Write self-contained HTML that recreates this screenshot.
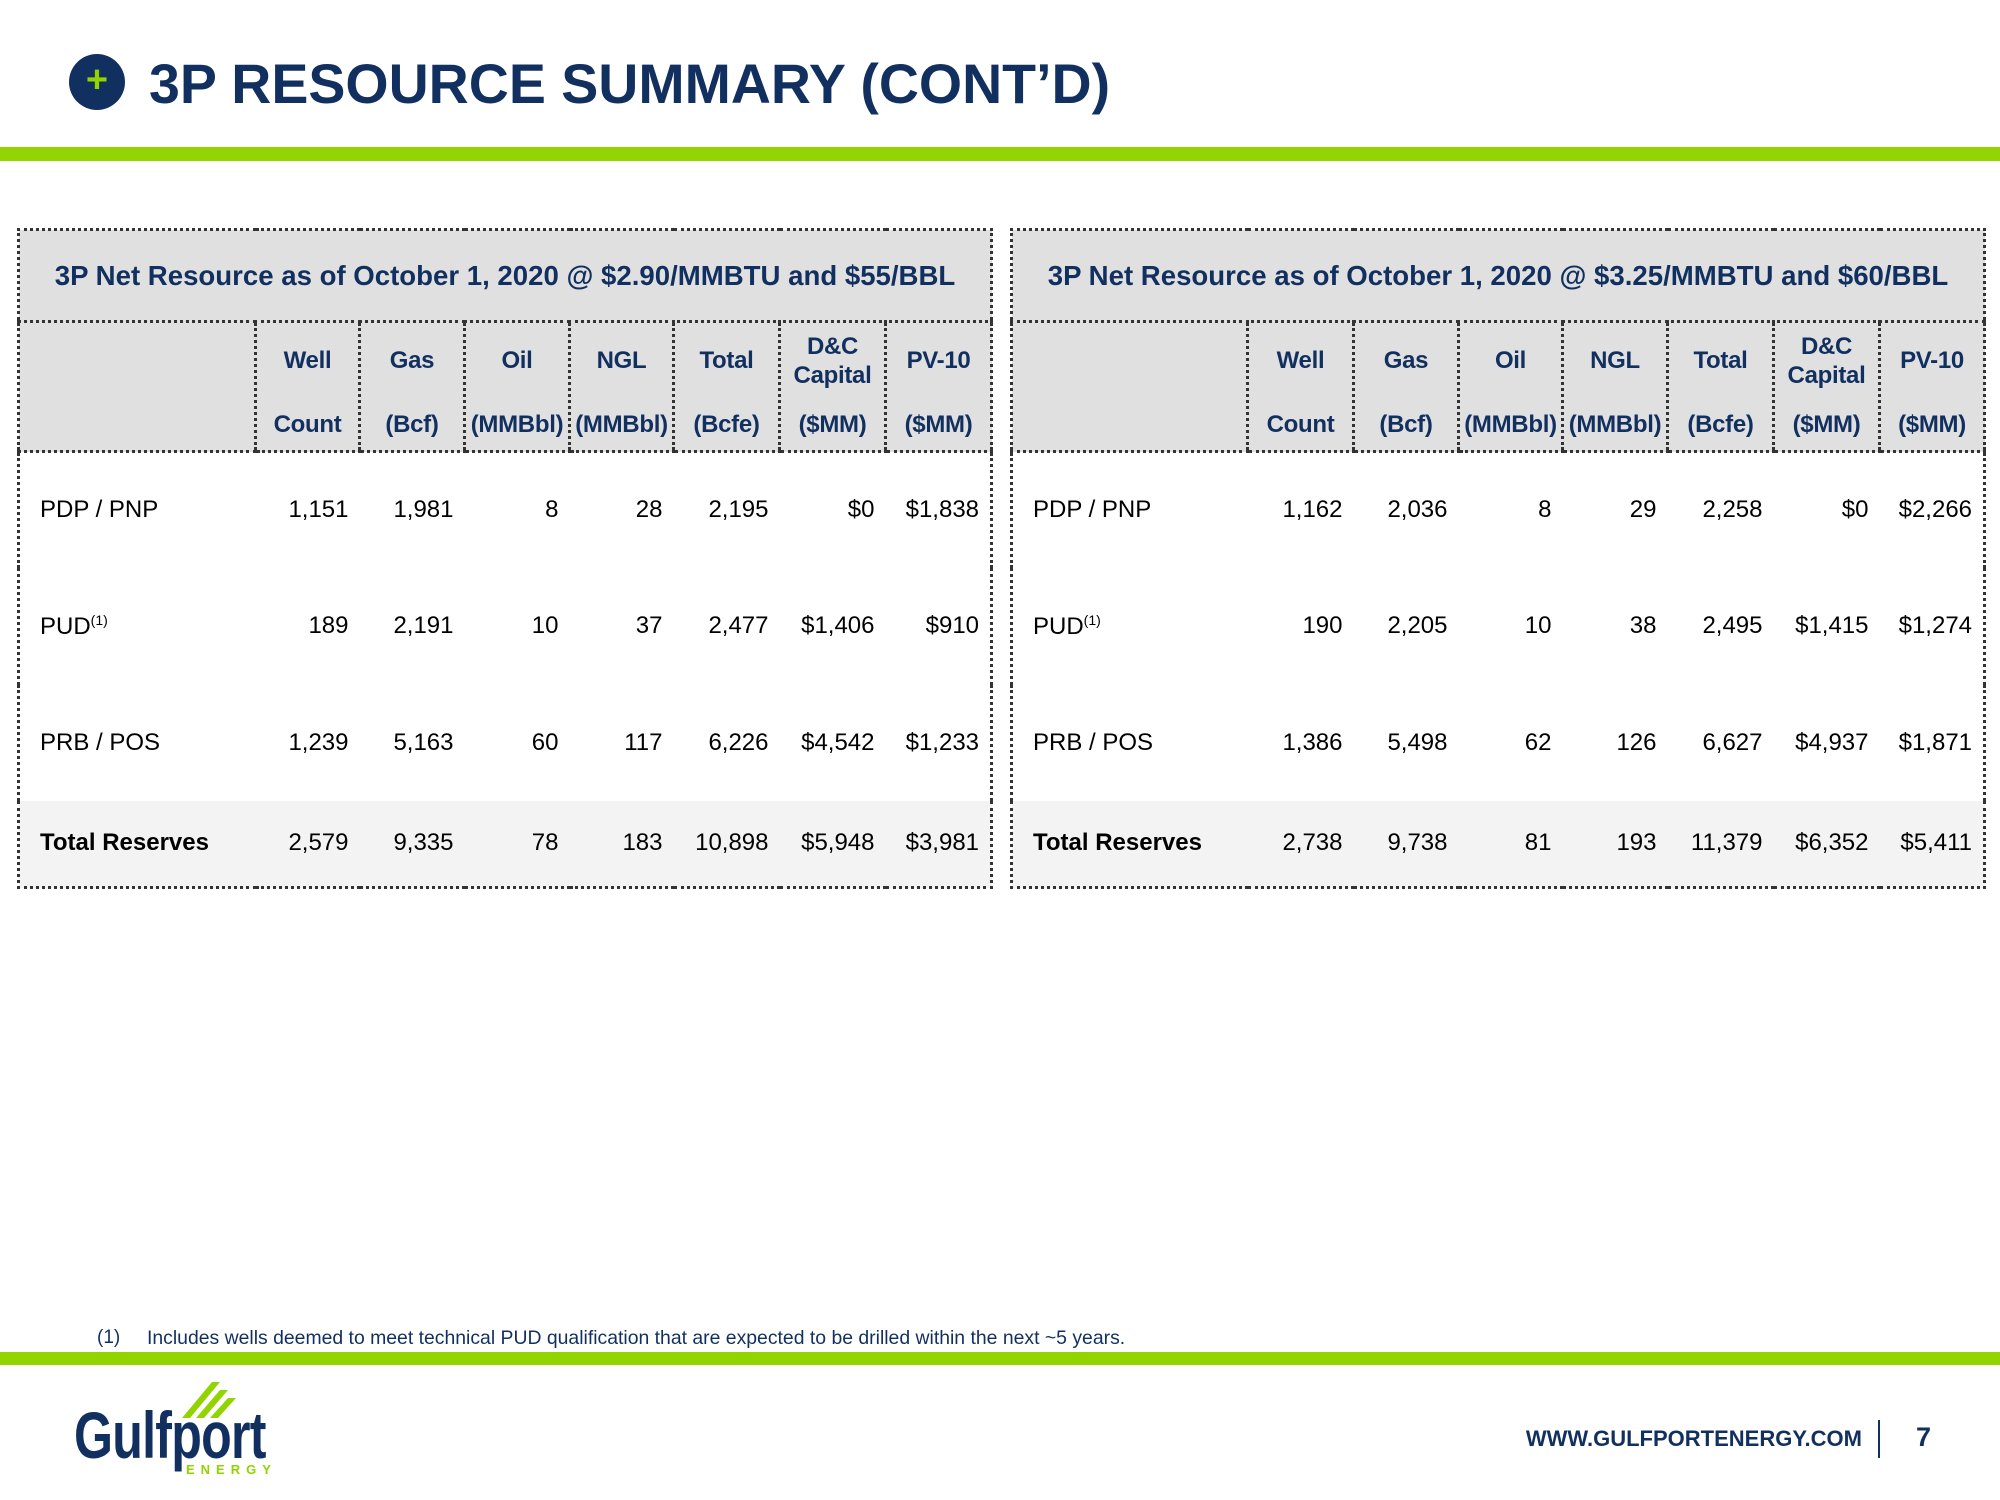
<!DOCTYPE html>
<html><head><meta charset="utf-8"><style>
*{margin:0;padding:0;box-sizing:border-box}
body{width:2000px;height:1500px;background:#fff;position:relative;overflow:hidden;font-family:"Liberation Sans",Arial,sans-serif;color:#0f2a5a}
.abs{position:absolute}
table{position:absolute;top:228px;border-collapse:collapse;table-layout:fixed;border:3px dotted #333;}
td{font-size:24px;color:#000;padding:0}
.tt td{height:92px;background:#e0e0e0;color:#12305f;font-weight:bold;font-size:27.6px;text-align:center;border-bottom:3px dotted #333}
.hd td{height:127px;background:#e0e0e0;border-bottom:3px dotted #333;border-left:3px dotted #333;color:#12305f;font-weight:bold;text-align:center}
.hd td:first-child{border-left:none}
.hd div{position:relative;height:127px}
.hd span{position:absolute;left:0;right:0;white-space:nowrap;letter-spacing:-0.3px}
.r td{text-align:right;padding-right:11px}
.r td:first-child{text-align:left;padding-left:20px;padding-right:0}
.r1 td{height:116px}.r2 td{height:117px}.r3 td{height:116px}
.tot td{height:87px;background:#f3f3f3}
.tot td:first-child{font-weight:bold}
sup{font-size:14px;vertical-align:9px}
</style></head><body>
<div class="abs" style="left:69px;top:54px;width:56px;height:56px;border-radius:50%;background:#12305f;color:#92d400;font-size:38px;font-weight:bold;text-align:center;line-height:52px">+</div>
<div class="abs" style="left:149px;top:52px;font-size:55.5px;font-weight:bold;color:#12305f;white-space:nowrap">3P RESOURCE SUMMARY (CONT’D)</div>
<div class="abs" style="left:0;top:147px;width:2000px;height:14px;background:#92d400"></div>

<table style="left:17px;width:973px">
<colgroup><col style="width:237px"><col style="width:104px"><col style="width:105px"><col style="width:105px"><col style="width:104px"><col style="width:106px"><col style="width:106px"><col style="width:106px"></colgroup>
<tr class="tt"><td colspan="8">3P Net Resource as of October 1, 2020 @ $2.90/MMBTU and $55/BBL</td></tr>
<tr class="hd"><td></td>
<td><div><span style="top:24px">Well</span><span style="top:88px">Count</span></div></td>
<td><div><span style="top:24px">Gas</span><span style="top:88px">(Bcf)</span></div></td>
<td><div><span style="top:24px">Oil</span><span style="top:88px">(MMBbl)</span></div></td>
<td><div><span style="top:24px">NGL</span><span style="top:88px">(MMBbl)</span></div></td>
<td><div><span style="top:24px">Total</span><span style="top:88px">(Bcfe)</span></div></td>
<td><div><span style="top:10px">D&amp;C</span><span style="top:39px">Capital</span><span style="top:88px">($MM)</span></div></td>
<td><div><span style="top:24px">PV-10</span><span style="top:88px">($MM)</span></div></td></tr>
<tr class="r r1"><td>PDP / PNP</td><td>1,151</td><td>1,981</td><td>8</td><td>28</td><td>2,195</td><td>$0</td><td>$1,838</td></tr>
<tr class="r r2"><td>PUD<sup>(1)</sup></td><td>189</td><td>2,191</td><td>10</td><td>37</td><td>2,477</td><td>$1,406</td><td>$910</td></tr>
<tr class="r r3"><td>PRB / POS</td><td>1,239</td><td>5,163</td><td>60</td><td>117</td><td>6,226</td><td>$4,542</td><td>$1,233</td></tr>
<tr class="r tot"><td>Total Reserves</td><td>2,579</td><td>9,335</td><td>78</td><td>183</td><td>10,898</td><td>$5,948</td><td>$3,981</td></tr>
</table>

<table style="left:1010px;width:973px">
<colgroup><col style="width:236px"><col style="width:106px"><col style="width:105px"><col style="width:104px"><col style="width:105px"><col style="width:106px"><col style="width:106px"><col style="width:105px"></colgroup>
<tr class="tt"><td colspan="8">3P Net Resource as of October 1, 2020 @ $3.25/MMBTU and $60/BBL</td></tr>
<tr class="hd"><td></td>
<td><div><span style="top:24px">Well</span><span style="top:88px">Count</span></div></td>
<td><div><span style="top:24px">Gas</span><span style="top:88px">(Bcf)</span></div></td>
<td><div><span style="top:24px">Oil</span><span style="top:88px">(MMBbl)</span></div></td>
<td><div><span style="top:24px">NGL</span><span style="top:88px">(MMBbl)</span></div></td>
<td><div><span style="top:24px">Total</span><span style="top:88px">(Bcfe)</span></div></td>
<td><div><span style="top:10px">D&amp;C</span><span style="top:39px">Capital</span><span style="top:88px">($MM)</span></div></td>
<td><div><span style="top:24px">PV-10</span><span style="top:88px">($MM)</span></div></td></tr>
<tr class="r r1"><td>PDP / PNP</td><td>1,162</td><td>2,036</td><td>8</td><td>29</td><td>2,258</td><td>$0</td><td>$2,266</td></tr>
<tr class="r r2"><td>PUD<sup>(1)</sup></td><td>190</td><td>2,205</td><td>10</td><td>38</td><td>2,495</td><td>$1,415</td><td>$1,274</td></tr>
<tr class="r r3"><td>PRB / POS</td><td>1,386</td><td>5,498</td><td>62</td><td>126</td><td>6,627</td><td>$4,937</td><td>$1,871</td></tr>
<tr class="r tot"><td>Total Reserves</td><td>2,738</td><td>9,738</td><td>81</td><td>193</td><td>11,379</td><td>$6,352</td><td>$5,411</td></tr>
</table>

<div class="abs" style="left:97px;top:1327px;font-size:19px;color:#12305f">(1)</div>
<div class="abs" style="left:147px;top:1327px;font-size:19.4px;color:#12305f;white-space:nowrap">Includes wells deemed to meet technical PUD qualification that are expected to be drilled within the next ~5 years.</div>
<div class="abs" style="left:0;top:1352px;width:2000px;height:13px;background:#92d400"></div>

<svg class="abs" style="left:182px;top:1380px" width="80" height="40"><g fill="#92d400"><polygon points="0,38 30,2 38,2 8,38"/><polygon points="14,38 38,10 46,10 22,38"/><polygon points="28,38 46,18 54,18 36,38"/></g></svg>
<div class="abs" style="left:74px;top:1402px;font-size:66px;font-weight:bold;color:#12305f;transform:scaleX(0.76);transform-origin:left top;letter-spacing:-1px;line-height:66px">Gulfport</div>
<div class="abs" style="left:186px;top:1462px;font-size:13px;font-weight:bold;color:#92d400;letter-spacing:6px">ENERGY</div>

<div class="abs" style="left:1500px;top:1426px;width:362px;text-align:right;font-size:22px;font-weight:bold;color:#12305f;white-space:nowrap">WWW.GULFPORTENERGY.COM</div>
<div class="abs" style="left:1878px;top:1420px;width:2px;height:38px;background:#12305f"></div>
<div class="abs" style="left:1916px;top:1422px;font-size:27px;font-weight:bold;color:#12305f">7</div>
</body></html>
